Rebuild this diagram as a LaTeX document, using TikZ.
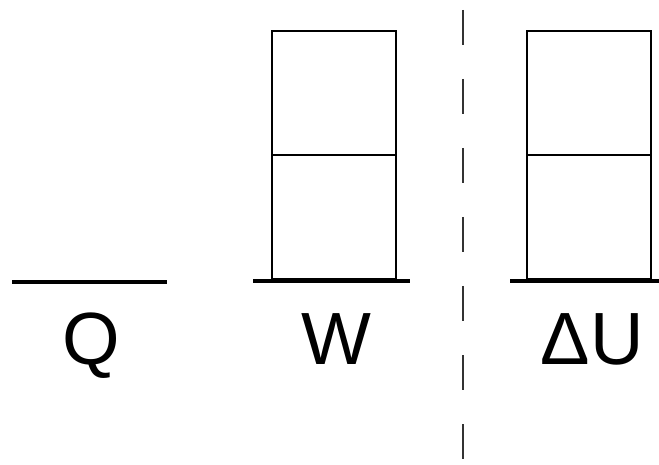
\documentclass[tikz,border=0pt]{standalone}
\usepackage{fontspec}
\setmainfont{Liberation Sans}
\begin{document}
\begin{tikzpicture}[x=1pt,y=-1pt,
  cell/.style={draw=black,line width=2.2pt,minimum width=124pt,minimum height=124pt,inner sep=0pt,outer sep=0pt},
  ground/.style={line width=3.4pt,black},
  lbl/.style={font=\fontsize{74}{74}\selectfont,anchor=base,inner sep=0pt},
  divider/.style={line width=2pt,black!80,dash pattern=on 35pt off 34pt}]
\useasboundingbox (0,0) rectangle (659,465);
% Q
\coordinate (q1) at (12,282);
\coordinate (q2) at (167,282);
\draw[ground] (q1) -- (q2);
\node[lbl] (Q) at (91,364) {Q};
% W
\node[cell] (wtop) at (334,93) {};
\node[cell] (wbot) at (334,217) {};
\coordinate (w1) at (253,281);
\coordinate (w2) at (410,281);
\draw[ground] (w1) -- (w2);
\node[lbl] (W) at (336,364) {W};
% divider
\coordinate (d1) at (463,10);
\coordinate (d2) at (463,465);
\draw[divider] (d1) -- (d2);
% Delta U
\node[cell] (utop) at (589,93) {};
\node[cell] (ubot) at (589,217) {};
\coordinate (u1) at (510,281);
\coordinate (u2) at (659,281);
\draw[ground] (u1) -- (u2);
\node[lbl] (DU) at (592,364) {ΔU};
\end{tikzpicture}
\end{document}
